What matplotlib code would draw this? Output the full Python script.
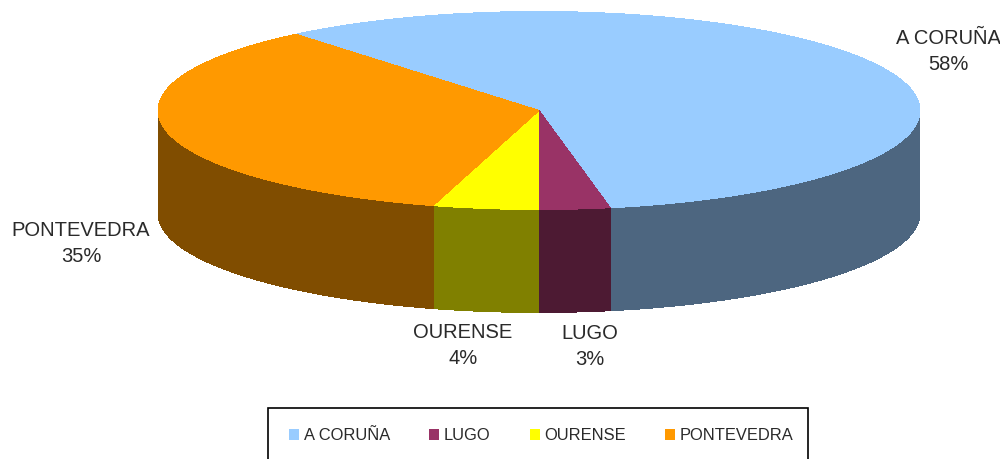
import numpy as np
import matplotlib
matplotlib.use('Agg')
import matplotlib.pyplot as plt
from matplotlib.patches import Patch, Rectangle

# Provincias e valores
provincias = ['A CORUÑA', 'LUGO', 'OURENSE', 'PONTEVEDRA']
valores = [58.2, 3.0, 4.5, 34.6]
cores = ['#99CCFF', '#993366', '#FFFF00', '#FF9900']
cores_lado = ['#4D6680', '#4D1A33', '#808000', '#804D00']

# Geometria do pie (pixels da imagem)
cx, cy = 539, 110.5
rx, ry = 381, 99
altura = 103
inicio = -39.66

plt.rcParams['font.family'] = ['Liberation Sans', 'DejaVu Sans']
fig = plt.figure(figsize=(10, 4.59), dpi=100)
ax = fig.add_axes([0, 0, 1, 1])
ax.set_xlim(0, 1000)
ax.set_ylim(459, 0)
ax.axis('off')


def borda(a1, a2):
    # angulos em graus, sentido horario a partir do topo
    t = np.radians(np.linspace(a1, a2, 200))
    return cx + rx * np.sin(t), cy - ry * np.cos(t)


fracoes = np.array(valores) / sum(valores) * 360
fins = inicio + np.cumsum(fracoes)
inicios = fins - fracoes

# Paredes laterais: so a parte virada para a frente (90 a 270 graus)
for a1, a2, cor in zip(inicios, fins, cores_lado):
    for desloc in (0, 360):
        b1 = max(a1 + desloc, 90)
        b2 = min(a2 + desloc, 270)
        if b2 > b1:
            x, y = borda(b1, b2)
            ax.fill(np.r_[x, x[::-1]], np.r_[y, y[::-1] + altura],
                    color=cor, lw=0, antialiased=False)

# Topo
for a1, a2, cor in zip(inicios, fins, cores):
    x, y = borda(a1, a2)
    ax.fill(np.r_[cx, x], np.r_[cy, y], color=cor, lw=0, antialiased=False)

# Rotulos
pos_rotulos = [(948, 51.5), (590, 346.5), (463, 345.5), (81, 243.5)]
for nome, v, (px, py) in zip(provincias, valores, pos_rotulos):
    ax.text(px, py, f'{nome}\n{v:.0f}%', ha='center', va='center',
            fontsize=14.5, color='#2a2a2a', linespacing=1.42)

# Legenda (moldura a parte, cortada pela borda inferior)
ax.add_patch(Rectangle((268, 407.5), 540, 60, facecolor='white',
                       edgecolor='black', lw=1.2))
handles = [Patch(facecolor=c, edgecolor='none') for c in cores]
ax.legend(handles, provincias, ncol=4, loc='upper left',
          bbox_to_anchor=(268, 407), bbox_transform=ax.transData,
          borderaxespad=0, borderpad=1.3, fontsize=11.9,
          handlelength=0.6, handleheight=0.6, handletextpad=0.25,
          columnspacing=2.4, frameon=False, labelcolor='#2a2a2a')

fig.savefig('out.png', dpi=100)
